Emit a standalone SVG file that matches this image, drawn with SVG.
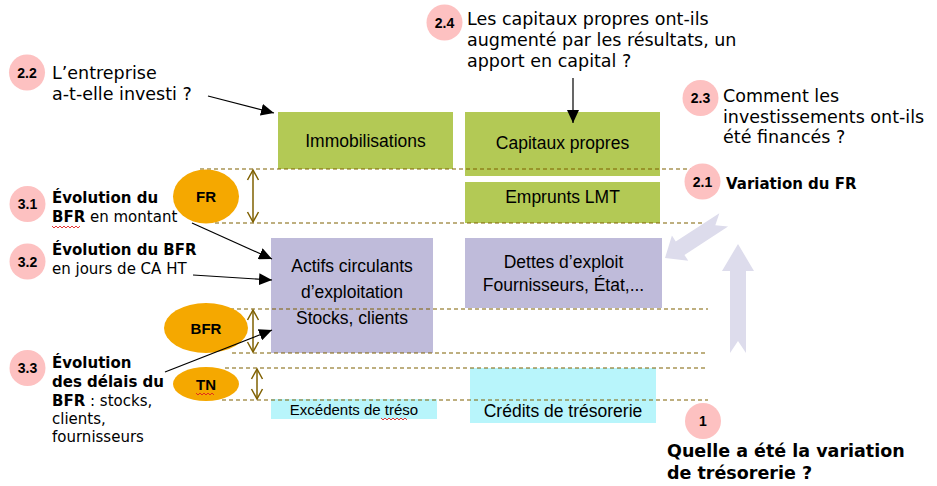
<svg xmlns="http://www.w3.org/2000/svg" width="937" height="486" viewBox="0 0 937 486">
<style>
.bg{fill:#ffffff}
.green{fill:#B3C955}
.purple{fill:#BFBBDA}
.cyan{fill:#B8F5FB}
.orange{fill:#F5A800}
.pink{fill:#FDC1C1}
.big{fill:#DDDCEC}
.dash{stroke:#7F6000;stroke-width:1.2;stroke-dasharray:4,3;fill:none}
.dbl{stroke:#7F6000;stroke-width:1.5;fill:none;marker-start:url(#open);marker-end:url(#open)}
.ptr{stroke:#000;stroke-width:1.2;fill:none;marker-end:url(#tri)}
.box{font-family:"Liberation Sans",Arial,sans-serif;font-size:17.5px;fill:#000;text-anchor:middle}
.num{font-family:"Liberation Sans",Arial,sans-serif;font-size:14px;font-weight:bold;fill:#000;text-anchor:middle}
.ell{font-family:"Liberation Sans",Arial,sans-serif;font-size:15px;font-weight:bold;fill:#000;text-anchor:middle}
.q{font-family:"DejaVu Sans",Verdana,sans-serif;font-size:17.5px;fill:#000}
.s{font-family:"DejaVu Sans",Verdana,sans-serif;font-size:15px;fill:#000}
.b{font-weight:bold}
.sq{stroke:#E02020;stroke-width:0.9;fill:none}
</style>
<defs>
<marker id="tri" markerUnits="userSpaceOnUse" markerWidth="14" markerHeight="12" refX="13" refY="6" orient="auto">
<path d="M0,0 L13,6 L0,12 Z" fill="#000"/>
</marker>
<marker id="open" markerUnits="userSpaceOnUse" markerWidth="14" markerHeight="14" refX="11" refY="7" orient="auto-start-reverse">
<path d="M1,1.5 L11,7 L1,12.5" fill="none" stroke="#7F6000" stroke-width="1.5"/>
</marker>
<path id="bigArrow" d="M0,0 L16,27 L8,27 L8,109 L0,97 L-8,109 L-8,27 L-16,27 Z"/>
</defs>
<rect class="bg" x="0" y="0" width="937" height="486"/>

<g id="boxes">
<g id="immobilisations"><rect class="green" x="278" y="112" width="175" height="57"/><text class="box" x="365.5" y="147">Immobilisations</text></g>
<g id="capitaux-propres"><rect class="green" x="465" y="112" width="195" height="64"/><text class="box" x="562.5" y="149">Capitaux propres</text></g>
<g id="emprunts-lmt"><rect class="green" x="465" y="182" width="195" height="41"/><text class="box" x="562.5" y="203">Emprunts LMT</text></g>
<g id="actifs-circulants"><rect class="purple" x="271" y="238" width="162" height="115"/><text class="box" x="352" y="272">Actifs circulants</text><text class="box" x="352" y="298">d’exploitation</text><text class="box" x="352" y="324">Stocks, clients</text></g>
<g id="dettes-exploit"><rect class="purple" x="465" y="238" width="197" height="70"/><text class="box" x="563.5" y="268">Dettes d’exploit</text><text class="box" x="563.5" y="291">Fournisseurs, État,...</text></g>
<g id="credits-tresorerie"><rect class="cyan" x="470" y="368" width="186" height="55"/><text class="box" x="563" y="417">Crédits de trésorerie</text></g>
<g id="excedents-treso"><rect class="cyan" x="271" y="399" width="166" height="20"/><text class="box" x="354" y="415" style="font-size:15px">Excédents de tréso</text><path class="sq" d="M381,418 l2,2 l2,-2 l2,2 l2,-2 l2,2 l2,-2 l2,2 l2,-2 l2,2 l2,-2 l2,2 l2,-2 l2,2"/></g>
</g>

<g id="levels">
<line class="dash" x1="200" y1="169" x2="705" y2="169"/>
<line class="dash" x1="215" y1="223" x2="703" y2="223"/>
<line class="dash" x1="230" y1="309" x2="708" y2="309"/>
<line class="dash" x1="232" y1="353" x2="708" y2="353"/>
<line class="dash" x1="225" y1="368" x2="707" y2="368"/>
<line class="dash" x1="222" y1="400" x2="708" y2="400"/>
</g>

<g id="ellipse-fr"><ellipse class="orange" cx="206" cy="196.5" rx="33" ry="27"/><text class="ell" x="206" y="202">FR</text></g>
<g id="ellipse-bfr"><ellipse class="orange" cx="206" cy="328" rx="42" ry="25"/><text class="ell" x="206" y="334">BFR</text></g>
<g id="ellipse-tn"><ellipse class="orange" cx="206" cy="384" rx="33" ry="17"/><text class="ell" x="206" y="390">TN</text><path class="sq" d="M196,393 l2,2 l2,-2 l2,2 l2,-2 l2,2 l2,-2 l2,2 l2,-2 l2,2"/></g>

<g id="connectors">
<line class="dbl" x1="253" y1="170" x2="253" y2="222"/>
<line class="dbl" x1="253" y1="310" x2="253" y2="352"/>
<line class="dbl" x1="257" y1="369" x2="257" y2="399"/>
<line class="ptr" x1="208" y1="96" x2="274" y2="113"/>
<line class="ptr" x1="573" y1="78" x2="573" y2="123"/>
<line class="ptr" x1="192" y1="223" x2="272" y2="259"/>
<line class="ptr" x1="193" y1="275" x2="272" y2="280"/>
<line class="ptr" x1="165" y1="372" x2="272" y2="330"/>
<use href="#bigArrow" class="big" transform="translate(738,244)"/>
<path class="big" transform="translate(665,258) rotate(-123)" d="M0,0 L15,18 L8,18 L8,70 L0,60 L-8,70 L-8,18 L-15,18 Z"/>
</g>

<g id="q22"><circle class="pink" cx="27" cy="72.5" r="18"/><text class="num" x="27" y="77.5">2.2</text>
<text class="q" x="52" y="79">L’entreprise</text><text class="q" x="52" y="100">a-t-elle investi ?</text></g>

<g id="q24"><circle class="pink" cx="444.5" cy="22.5" r="18"/><text class="num" x="444.5" y="27.5">2.4</text>
<text class="q" x="467" y="25">Les capitaux propres ont-ils</text><text class="q" x="467" y="46">augmenté par les résultats, un</text><text class="q" x="467" y="67">apport en capital ?</text></g>

<g id="q23"><circle class="pink" cx="700.5" cy="98" r="18"/><text class="num" x="700.5" y="103">2.3</text>
<text class="q" x="723" y="102">Comment les</text><text class="q" x="723" y="122.5">investissements ont-ils</text><text class="q" x="723" y="143">été financés ?</text></g>

<g id="q21"><circle class="pink" cx="702.5" cy="181.5" r="18"/><text class="num" x="702.5" y="186.5">2.1</text>
<text class="s b" x="726" y="189">Variation du FR</text></g>

<g id="q31"><circle class="pink" cx="27.5" cy="204" r="18"/><text class="num" x="27.5" y="209">3.1</text>
<text class="s b" x="52" y="203">Évolution du</text><text class="s" x="52" y="222"><tspan class="b">BFR</tspan> en montant</text>
<path class="sq" d="M52,226 l2,2 l2,-2 l2,2 l2,-2 l2,2 l2,-2 l2,2 l2,-2 l2,2 l2,-2 l2,2 l2,-2 l2,2 l2,-2"/></g>

<g id="q32"><circle class="pink" cx="27.5" cy="261.5" r="18"/><text class="num" x="27.5" y="266.5">3.2</text>
<text class="s b" x="52" y="255">Évolution du BFR</text><text class="s" x="52" y="274">en jours de CA HT</text></g>

<g id="q33"><circle class="pink" cx="27.5" cy="368" r="18"/><text class="num" x="27.5" y="373">3.3</text>
<text class="s b" x="52" y="368">Évolution</text><text class="s b" x="52" y="387">des délais du</text><text class="s" x="52" y="405.5"><tspan class="b">BFR</tspan> : stocks,</text><text class="s" x="52" y="424">clients,</text><text class="s" x="52" y="442">fournisseurs</text></g>

<g id="q1"><circle class="pink" cx="703" cy="421" r="18"/><text class="num" x="703" y="426">1</text>
<text class="q b" x="667" y="457">Quelle a été la variation</text><text class="q b" x="667" y="479">de trésorerie ?</text></g>
</svg>
